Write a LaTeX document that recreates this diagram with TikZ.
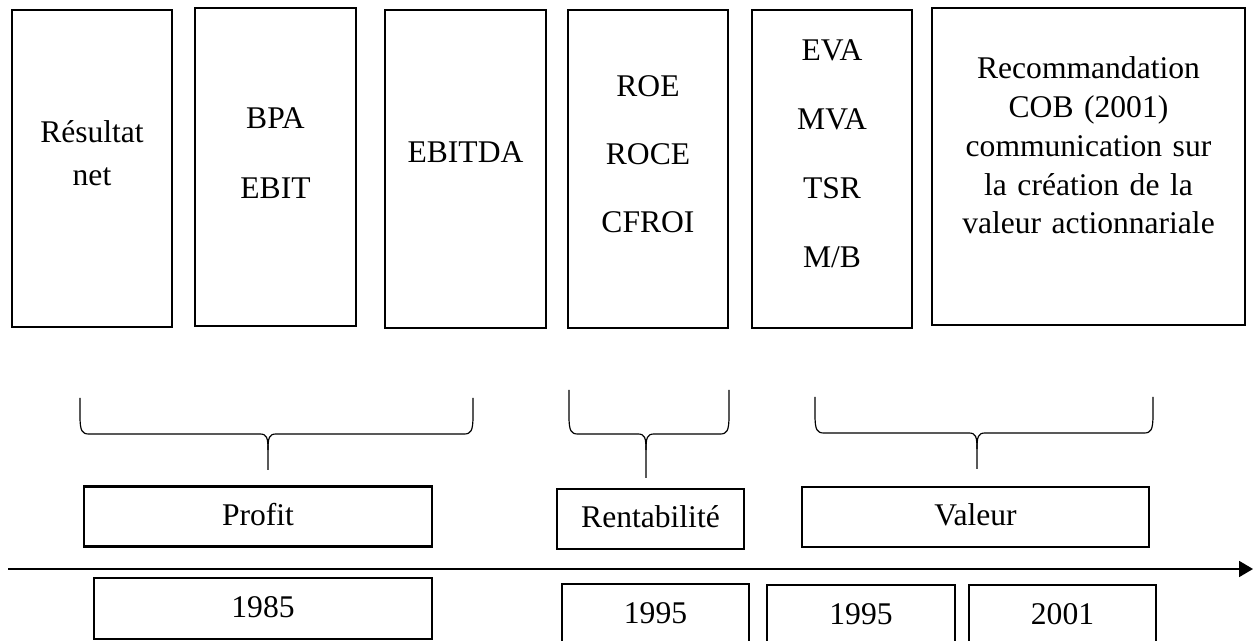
\documentclass[tikz,border=0pt]{standalone}
\usepackage{fontspec}
\setmainfont{Liberation Serif}
\usetikzlibrary{arrows.meta}

\begin{document}
\begin{tikzpicture}[x=0.38pt, y=-0.38pt]
    % Define colours
    \definecolor{borderColour}{HTML}{000000}

    % Define pixel unit
    \def\px{0.38pt}

    % Define styles
    \tikzset{
        topBox/.style={draw=borderColour, line width=1pt, inner sep=0pt},
        topText/.style={anchor=base, align=center, inner sep=0pt},
        tagBox/.style={draw=borderColour, line width=1pt, inner sep=0pt,
            font=\fontsize{12pt}{14pt}\selectfont,
            minimum height=60*\px, text height=.66em, text depth=0pt},
        braceLine/.style={draw=borderColour, line width=0.45pt}
    }

    % Fix the page size
    \useasboundingbox (0,0) rectangle (1254,641);

    % Draw the indicator boxes
    \node[topBox, minimum width=160*\px, minimum height=317*\px] (resultat) at (92,168.5) {};
    \node[topBox, minimum width=161*\px, minimum height=318*\px] (bpa) at (275.5,167) {};
    \node[topBox, minimum width=161*\px, minimum height=318*\px] (ebitda) at (465.5,169) {};
    \node[topBox, minimum width=160*\px, minimum height=318*\px] (roe) at (648,169) {};
    \node[topBox, minimum width=160*\px, minimum height=318*\px] (eva) at (832,169) {};
    \node[topBox, minimum width=313*\px, minimum height=317*\px] (cob) at (1088.5,166.5) {};

    % Write the indicators
    \node[topText, text width=150*\px, font=\fontsize{12pt}{16pt}\selectfont] (tResultat) at (92,143) {Résultat\\net};
    \node[topText, text width=150*\px, font=\fontsize{12pt}{26.6pt}\selectfont] (tBpa) at (275.5,129) {BPA\\EBIT};
    \node[topText, text width=150*\px, font=\fontsize{12pt}{14pt}\selectfont] (tEbitda) at (465.5,163) {EBITDA};
    \node[topText, text width=150*\px, font=\fontsize{12pt}{25.8pt}\selectfont] (tRoe) at (648,97) {ROE\\ROCE\\CFROI};
    \node[topText, text width=150*\px, font=\fontsize{12pt}{26.2pt}\selectfont] (tEva) at (832,61) {EVA\\MVA\\TSR\\M/B};
    \node[topText, text width=300*\px, font=\fontsize{12pt}{14.7pt}\selectfont] (tCob) at (1088.5,79)
        {Recommandation\\COB (2001)\\communication sur\\la création de la\\valeur actionnariale};

    % Draw the braces
    \foreach \xl/\xr/\xm/\yt/\ym/\yb in {80/473/268/398/434/470, 569/729/646/390/434/478, 815/1153/977/397/433/469}{
        \draw[braceLine] (\xl,\yt) -- (\xl,\ym-18) .. controls (\xl,\ym-3) and (\xl+2,\ym) .. (\xl+9,\ym)
            -- (\xm-8,\ym) .. controls (\xm-1,\ym) and (\xm,\ym+4) .. (\xm,\ym+16) -- (\xm,\yb);
        \draw[braceLine] (\xr,\yt) -- (\xr,\ym-18) .. controls (\xr,\ym-3) and (\xr-2,\ym) .. (\xr-9,\ym)
            -- (\xm+8,\ym) .. controls (\xm+1,\ym) and (\xm,\ym+4) .. (\xm,\ym+16);
    }

    % Draw the group labels
    \node[tagBox, minimum width=348*\px] (profit) at (258,516.5) {Profit};
    \node[tagBox, minimum width=187*\px] (rentab) at (650.5,519) {Rentabilité};
    \node[tagBox, minimum width=347*\px] (valeur) at (975.5,517) {Valeur};

    % Draw the time axis
    \coordinate (axisStart) at (8,569);
    \coordinate (axisEnd) at (1253,569);
    \draw[line width=0.6pt, -{Triangle[length=5.3pt, width=6.1pt]}] (axisStart) -- (axisEnd);

    % Draw the years
    \node[tagBox, minimum width=338*\px, minimum height=61*\px] (y1985) at (263,608.5) {1985};
    \node[tagBox, minimum width=187*\px, minimum height=61*\px] (y1995a) at (655.5,614.5) {1995};
    \node[tagBox, minimum width=188*\px, minimum height=61*\px] (y1995b) at (861,615.5) {1995};
    \node[tagBox, minimum width=187*\px, minimum height=61*\px] (y2001) at (1062.5,615.5) {2001};

\end{tikzpicture}
\end{document}
